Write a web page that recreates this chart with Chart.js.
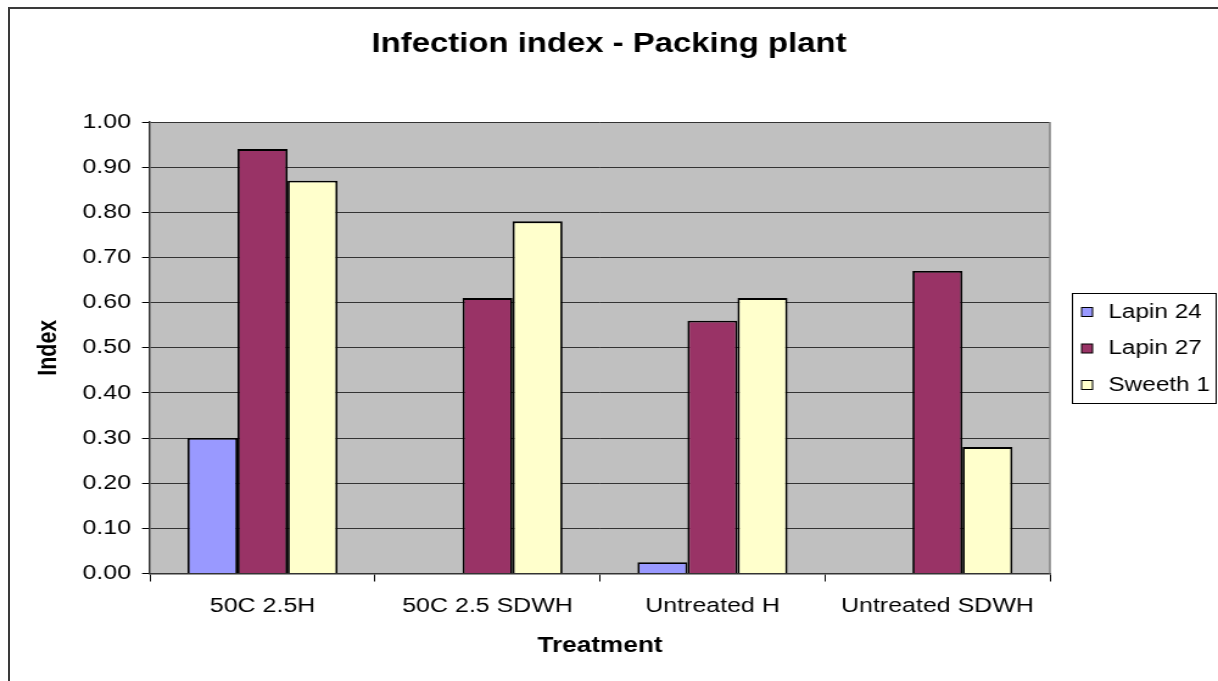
<!DOCTYPE html>
<html>
<head>
<meta charset="utf-8">
<script src="https://cdn.jsdelivr.net/npm/chart.js@4/dist/chart.umd.min.js"></script>
<style>
    html, body { margin: 0; padding: 0; background: #fff; overflow: hidden; }
    #frame {
        position: absolute; left: 8px; top: 7px; right: -20px; bottom: -20px;
        border-left: 2px solid #3a3a3a; border-top: 2px solid #3a3a3a;
    }
    #chart {
        position: absolute; left: 0; top: 0;
        transform: scaleX(1.218); transform-origin: 0 0;
    }
</style>
</head>
<body>
<div id="frame"></div>
<canvas id="chart" width="1000" height="681"></canvas>
<script>
// data
const categories = ['50C 2.5H', '50C 2.5 SDWH', 'Untreated H', 'Untreated SDWH'];
const seriesNames = ['Lapin 24', 'Lapin 27', 'Sweeth 1'];
const lapin24 = [0.30, 0, 0.025, 0];
const lapin27 = [0.94, 0.61, 0.56, 0.67];
const sweeth1 = [0.87, 0.78, 0.61, 0.28];
const yMin = 0;
const yMax = 1;
const yStep = 0.1;

const colors = ['#9999FF', '#993366', '#FFFFCC'];

Chart.defaults.font.family = '"Liberation Sans", Arial, sans-serif';
Chart.defaults.color = '#000';

// grey plot background + right edge
const plotBg = {
    id: 'plotBg',
    beforeDraw (chart) {
        const a = chart.chartArea;
        const ctx = chart.ctx;
        ctx.save();
        ctx.fillStyle = '#C0C0C0';
        ctx.fillRect(a.left, a.top, a.right - a.left, a.bottom - a.top);
        ctx.restore();
    },
    afterDraw (chart) {
        const a = chart.chartArea;
        const ctx = chart.ctx;
        ctx.save();
        ctx.strokeStyle = '#808080';
        ctx.lineWidth = 1.5;
        ctx.beginPath();
        ctx.moveTo(a.right, a.top);
        ctx.lineTo(a.right, a.bottom);
        ctx.stroke();
        ctx.restore();
    }
};

// boxed legend on the right, like the spreadsheet one
const boxLegend = {
    id: 'boxLegend',
    afterDraw (chart) {
        const ctx = chart.ctx;
        const x0 = 880, y0 = 293, w = 118, h = 110;
        const rows = [312, 348.5, 385];
        ctx.save();
        ctx.strokeStyle = '#000';
        ctx.lineWidth = 1;
        ctx.strokeRect(x0 + 0.5, y0 + 0.5, w, h);
        ctx.font = '20px "Liberation Sans", Arial, sans-serif';
        ctx.textBaseline = 'middle';
        chart.data.datasets.forEach((ds, i) => {
            ctx.fillStyle = ds.backgroundColor;
            ctx.fillRect(888, rows[i] - 4.5, 9, 9);
            ctx.strokeStyle = '#000';
            ctx.strokeRect(888, rows[i] - 4.5, 9, 9);
            ctx.fillStyle = '#000';
            ctx.fillText(ds.label, 910, rows[i]);
        });
        ctx.restore();
    }
};

const ctx = document.getElementById('chart');
new Chart(ctx, {
    type: 'bar',
    data: {
        labels: categories,
        datasets: [
            { label: seriesNames[0], data: lapin24, backgroundColor: colors[0] },
            { label: seriesNames[1], data: lapin27, backgroundColor: colors[1] },
            { label: seriesNames[2], data: sweeth1, backgroundColor: colors[2] }
        ]
    },
    options: {
        responsive: false,
        animation: false,
        layout: { padding: 0 },
        datasets: {
            bar: {
                categoryPercentage: 0.667,
                barPercentage: 1.0,
                borderColor: '#000',
                borderWidth: 1.8
            }
        },
        plugins: {
            legend: { display: false },
            tooltip: { enabled: false },
            title: {
                display: true,
                text: 'Infection index - Packing plant',
                font: { size: 27, weight: 'bold' },
                color: '#000',
                padding: { top: 28, bottom: 61.6 }
            }
        },
        scales: {
            x: {
                offset: true,
                afterFit (scale) { scale.height = 107.5; },
                grid: {
                    offset: true,
                    drawOnChartArea: false,
                    tickLength: 8,
                    tickColor: '#000',
                    tickWidth: 1
                },
                border: { display: true, color: '#333', width: 1.5 },
                ticks: { font: { size: 20.5 }, color: '#000', padding: 13, maxRotation: 0 },
                title: {
                    display: true,
                    text: 'Treatment',
                    font: { size: 21.5, weight: 'bold' },
                    color: '#000',
                    padding: { top: 0, bottom: 22 }
                }
            },
            y: {
                min: yMin,
                max: yMax,
                afterFit (scale) { scale.width = 123.2; },
                grid: {
                    color: '#333',
                    lineWidth: 1,
                    tickLength: 6.6,
                    tickColor: '#000'
                },
                border: { display: true, color: '#333', width: 1.5 },
                ticks: {
                    stepSize: yStep,
                    font: { size: 20.5 },
                    color: '#000',
                    padding: 9,
                    callback: (v) => Number(v).toFixed(2)
                },
                title: {
                    display: true,
                    text: 'Index',
                    font: { size: 21.5, weight: 'bold' },
                    color: '#000',
                    padding: { top: 27, bottom: 0 }
                }
            },
            // empty right axis only to keep room for the legend box
            yRight: {
                position: 'right',
                min: yMin,
                max: yMax,
                afterFit (scale) { scale.width = 138; },
                grid: { display: false },
                border: { display: false },
                ticks: { display: false }
            }
        }
    },
    plugins: [plotBg, boxLegend]
});
</script>
</body>
</html>
